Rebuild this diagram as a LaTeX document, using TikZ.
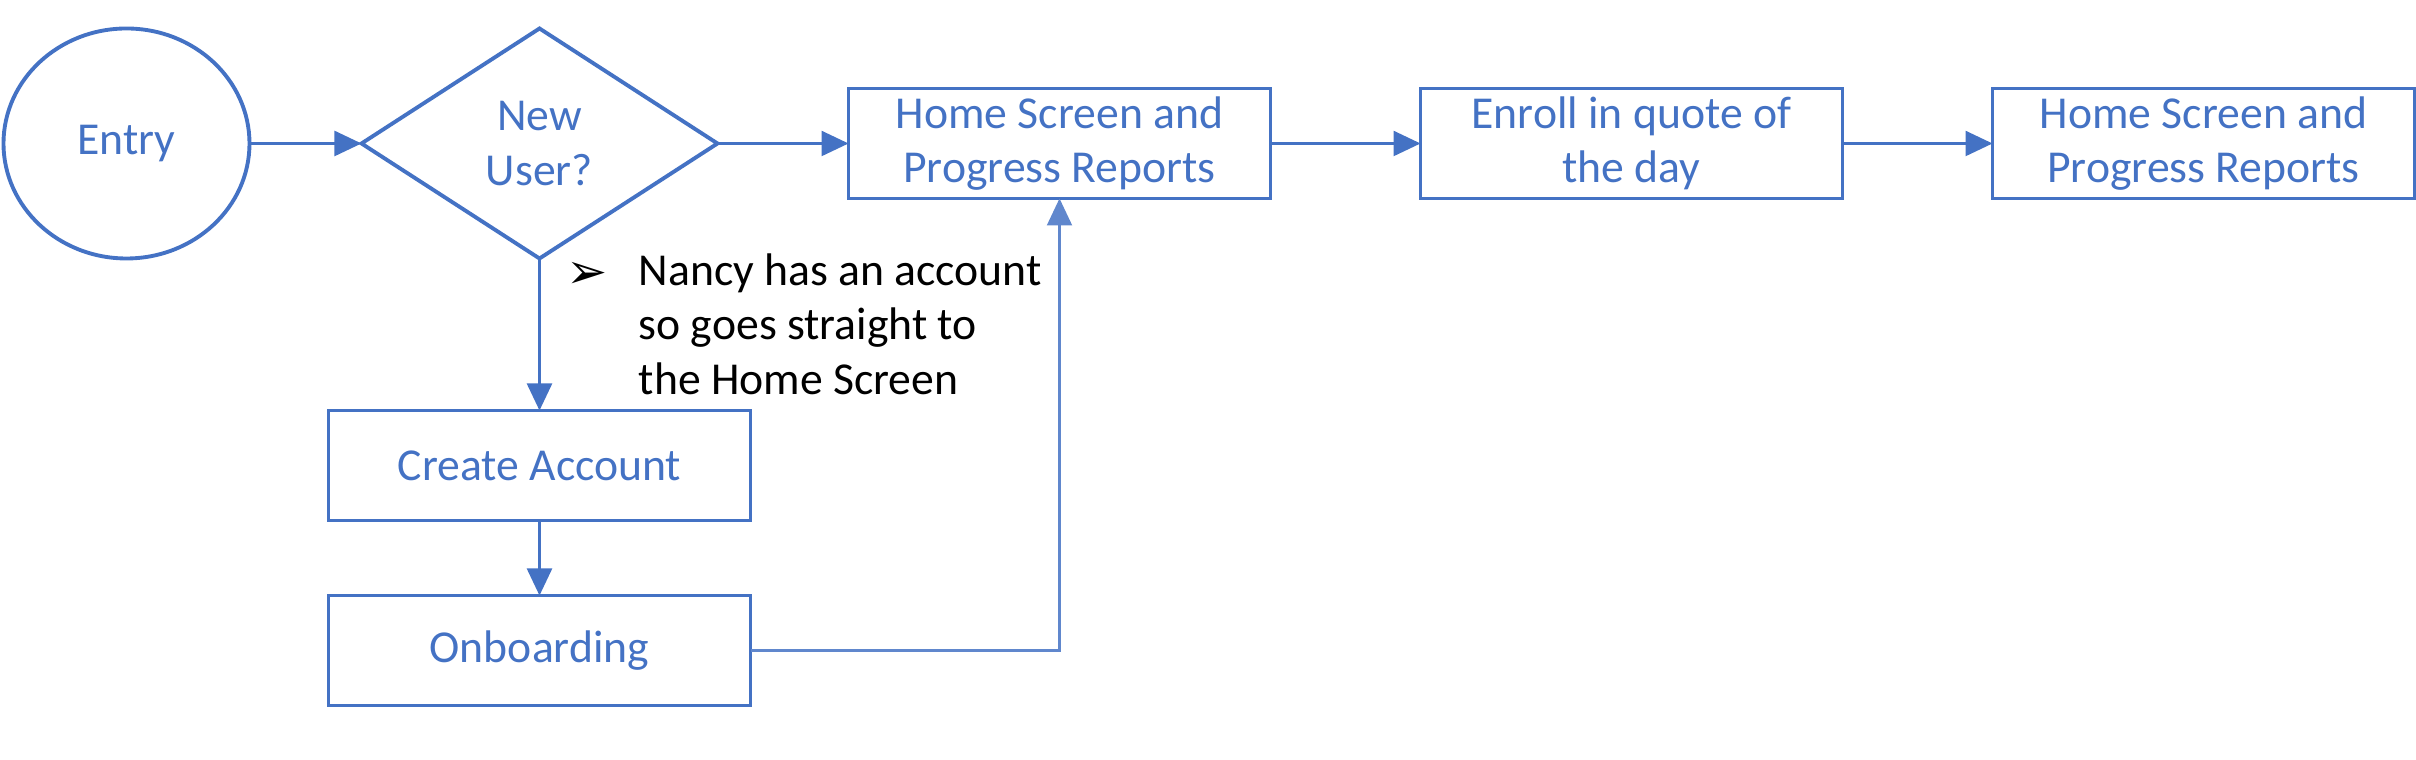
\documentclass[tikz,border=0pt]{standalone}
\usepackage{fontspec}
\setmainfont{Carlito}
\newfontfamily\symfont{DejaVu Sans}
\usepackage{xcolor}
\usetikzlibrary{shapes.geometric,arrows.meta,positioning}
\definecolor{flowblue}{RGB}{68,114,196}

\begin{document}
\begin{tikzpicture}[
  node distance=1.5cm,
  every node/.style={font=\fontsize{13}{15.5}\selectfont},
  shapebox/.style={draw=flowblue, line width=1.1pt, text=flowblue, align=center,
                   inner sep=2pt, outer sep=0pt},
  stepbox/.style={shapebox, rectangle, minimum width=4.22cm, minimum height=1.1cm},
  startbox/.style={shapebox, ellipse, minimum width=2.46cm, minimum height=2.3cm},
  decbox/.style={shapebox, diamond, minimum width=3.56cm, minimum height=2.3cm},
  arr/.style={-{Triangle[length=0.27cm, width=0.25cm]}, line width=0.7pt, flowblue},
  backarr/.style={arr, line width=0.6pt, flowblue!85}
]
\useasboundingbox (0,0) rectangle (24.16,7.6);

%% ---- Top row ----
\node[startbox] (entry) at (1.265,6.165) {Entry};
\node[decbox,  right=1.12cm of entry]  (newuser) {New\\User?};
\node[stepbox, right=1.31cm of newuser] (home)    {Home Screen and\\Progress Reports};
\node[stepbox, right=of home]          (quote)   {Enroll in quote of\\the day};
\node[stepbox, right=of quote]         (homeend) {Home Screen and\\Progress Reports};

%% ---- New user branch ----
\node[stepbox, below=1.52cm of newuser] (create)  {Create Account};
\node[stepbox, below=0.75cm of create]  (onboard) {Onboarding};

%% ---- Note ----
\node[inner sep=0pt, font=\fontsize{14}{16}\selectfont] (bullet) at (5.87,4.85) {\symfont ➢};
\node[anchor=north west, align=left, inner sep=0pt] (note) at (6.38,5.07)
  {Nancy has an account\\so goes straight to\\the Home Screen};

%% ---- Arrows ----
\draw[arr] (entry)   -- (newuser);
\draw[arr] (newuser) -- (home);
\draw[arr] (home)    -- (quote);
\draw[arr] (quote)   -- (homeend);
\draw[arr] (newuser) -- (create);
\draw[arr] (create)  -- (onboard);
% back into the home screen
\draw[backarr] (onboard.east) -| (home.south);
\end{tikzpicture}
\end{document}
